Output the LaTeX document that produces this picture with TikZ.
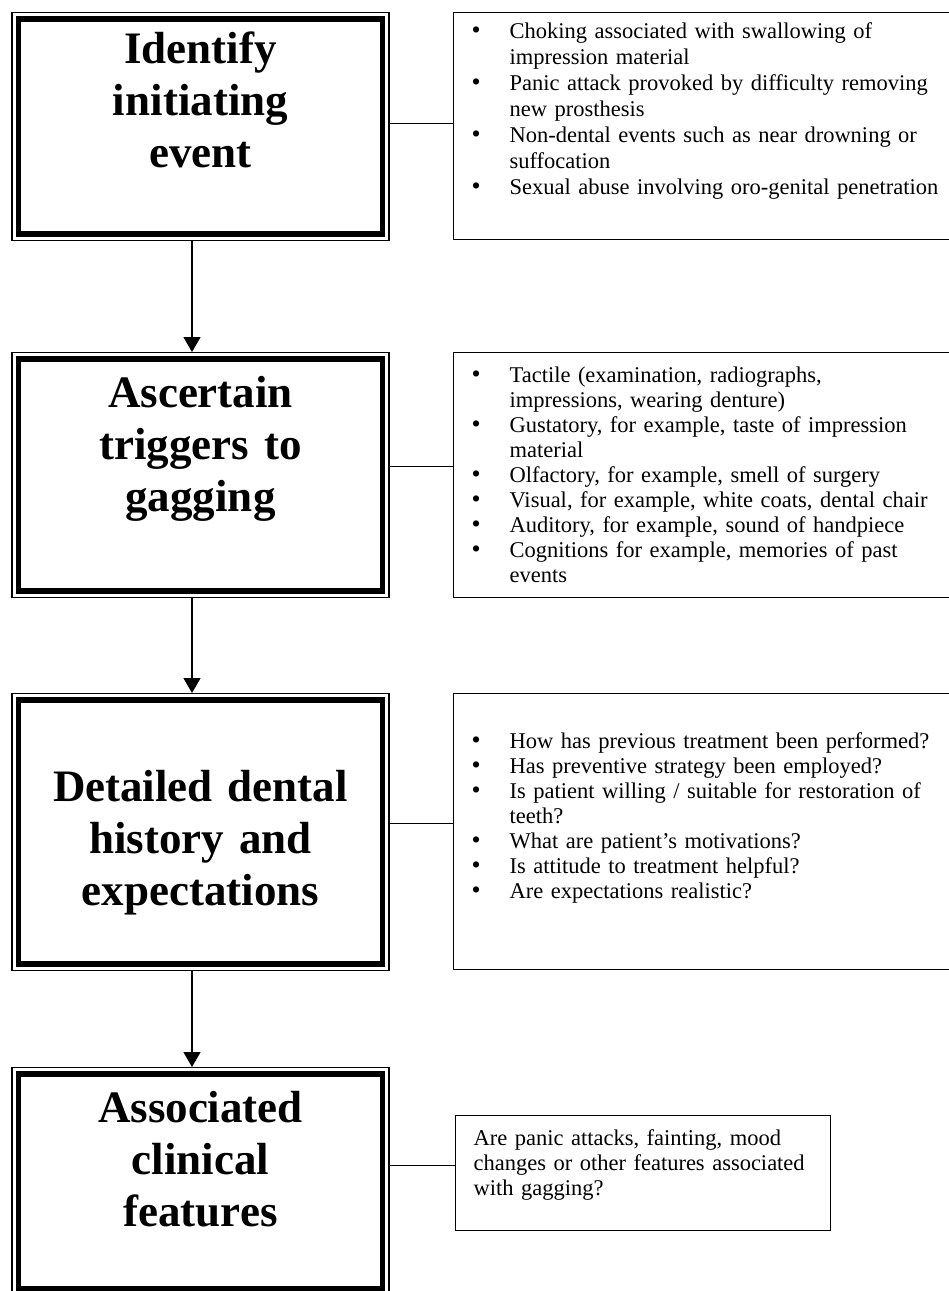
\documentclass[tikz,border=0pt]{standalone}
\usepackage{fontspec}
\usepackage{graphicx}
\setmainfont{Liberation Serif}
\usetikzlibrary{arrows.meta, positioning}

\newcommand{\titlefont}{\bfseries\fontsize{45}{52}\selectfont}
\newcommand{\bodyfont}{\fontsize{22.5}{25}\selectfont}
% bullet line with hanging indent
\newcommand{\bitem}[1]{\hangindent=56pt\hangafter=1\noindent\hbox to 56pt{\hskip 18pt\scalebox{1.15}{\textbullet}\hss}#1\par}

\begin{document}
\begin{tikzpicture}[x=1pt, y=-1pt,
      stepbox/.style={draw, line width=1.2pt, anchor=north, inner sep=0pt,
                      text width=377pt, align=center, font=\titlefont,
                      path picture={\draw[line width=5.5pt]
                        ([shift={(6.5pt,6.5pt)}]path picture bounding box.south west) rectangle
                        ([shift={(-6.5pt,-6.5pt)}]path picture bounding box.north east);}},
      listbox/.style={draw, line width=1.2pt, anchor=north west, inner sep=0pt,
                      align=left, font=\bodyfont},
      flow/.style={-{Triangle[length=15pt, width=17pt]}, line width=1.2pt},
      link/.style={line width=1.2pt}]
    \useasboundingbox (0,0) rectangle (949,1291);
    % left column
    \node[stepbox, text height=51pt, text depth=177pt] (identify) at (200.5,12) {Identify\\ initiating\\ event};
    \node[stepbox, text height=55pt, text depth=190pt] (triggers) at (200.5,352) {Ascertain\\ triggers to\\ gagging};
    \node[stepbox, text height=108pt, text depth=169pt] (history) at (200.5,693) {Detailed dental\\ history and\\ expectations};
    \node[stepbox, text height=55pt, text depth=173pt] (clinical) at (200.5,1067) {Associated\\ clinical\\ features};
    % right column
    \node[listbox, text width=496pt, text height=26pt, text depth=201pt,
          font=\fontsize{22.5}{26}\selectfont] (events) at (453,12) {%
      \bitem{Choking associated with swallowing of\newline impression material}%
      \bitem{Panic attack provoked by difficulty removing\newline new prosthesis}%
      \bitem{Non-dental events such as near drowning or\newline suffocation}%
      \bitem{Sexual abuse involving oro-genital penetration}};
    \node[listbox, text width=496pt, text height=30pt, text depth=215pt] (senses) at (453,352) {%
      \bitem{Tactile (examination, radiographs,\newline impressions, wearing denture)}%
      \bitem{Gustatory, for example, taste of impression\newline material}%
      \bitem{Olfactory, for example, smell of surgery}%
      \bitem{Visual, for example, white coats, dental chair}%
      \bitem{Auditory, for example, sound of handpiece}%
      \bitem{Cognitions for example, memories of past\newline events}};
    \node[listbox, text width=496pt, text height=55pt, text depth=221pt] (questions) at (453,693) {%
      \bitem{How has previous treatment been performed?}%
      \bitem{Has preventive strategy been employed?}%
      \bitem{Is patient willing / suitable for restoration of\newline teeth?}%
      \bitem{What are patient's motivations?}%
      \bitem{Is attitude to treatment helpful?}%
      \bitem{Are expectations realistic?}};
    \node[listbox, inner xsep=18pt, text width=339pt, text height=30pt, text depth=85pt] (features) at (455,1115) {%
      Are panic attacks, fainting, mood\\ changes or other features associated\\ with gagging?};
    % arrows down the left column
    \draw[flow] ([xshift=-8.5pt]identify.south) -- ([xshift=-8.5pt]triggers.north);
    \draw[flow] ([xshift=-8.5pt]triggers.south) -- ([xshift=-8.5pt]history.north);
    \draw[flow] ([xshift=-8.5pt]history.south) -- ([xshift=-8.5pt]clinical.north);
    % links to the lists
    \draw[link] ([yshift=3pt]identify.east) -- ([yshift=3pt]identify.east -| events.west);
    \draw[link] ([yshift=8.5pt]triggers.east) -- ([yshift=8.5pt]triggers.east -| senses.west);
    \draw[link] ([yshift=8.5pt]history.east) -- ([yshift=8.5pt]history.east -| questions.west);
    \draw[link] ([yshift=16pt]clinical.east) -- ([yshift=16pt]clinical.east -| features.west);
  \end{tikzpicture}
\end{document}
